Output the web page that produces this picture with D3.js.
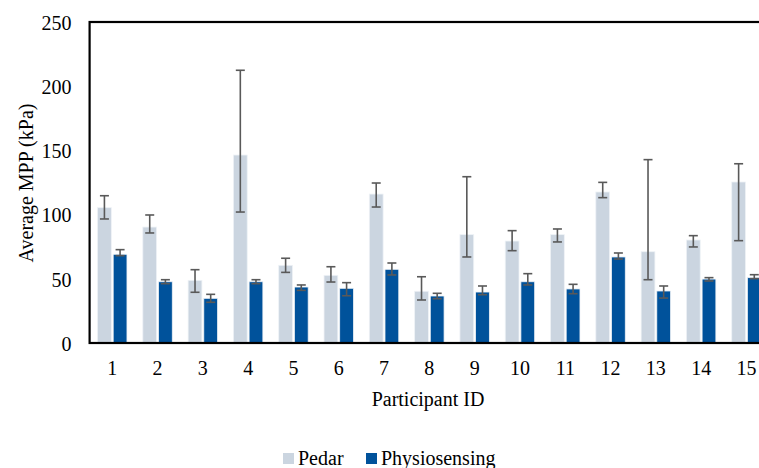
<!DOCTYPE html>
<meta charset="utf-8">
<style>
body { margin: 0; background: #fff; }
svg text { font-family: "Liberation Serif", "DejaVu Serif", serif !important; fill: #000; }
.axis path, .axis line { display: none; }
.axis text { font-size: 20px; }
.err line { stroke: #595959; stroke-width: 1.6; }
</style>
<script src="https://cdn.jsdelivr.net/npm/d3@7"></script>
<body>
<script>

// participant ids
var participants = ["1","2","3","4","5","6","7","8","9","10","11","12","13","14","15"];
var series = ["Pedar", "Physiosensing"];
var colors = ["#cbd5e0", "#00529b"];

// mean values (kPa)
var pedar  = [105.4, 90.3, 48.8, 146.4, 60.5, 52.7, 116.0, 40.3, 84.4, 79.4, 84.4, 117.6, 71.1, 80.2, 125.4];
var physio = [69.1, 47.7, 34.8, 47.7, 43.6, 42.6, 57.4, 36.6, 39.7, 47.7, 42.1, 67.0, 40.5, 49.8, 50.9];

// error bar ends
var pedarHigh  = [114.7, 99.7, 57.1, 212.4, 66.0, 59.4, 124.6, 51.6, 129.5, 87.5, 88.8, 125.1, 142.8, 83.6, 139.6];
var pedarLow   = [96.6, 85.7, 39.5, 102.0, 55.0, 47.5, 105.9, 33.5, 67.0, 71.9, 78.7, 113.2, 49.3, 74.8, 79.7];
var physioHigh = [72.7, 49.3, 37.9, 49.3, 45.2, 47.0, 62.3, 38.7, 44.4, 54.0, 45.7, 70.1, 44.4, 50.9, 53.2];
var physioLow  = [68.0, 46.2, 31.7, 46.2, 41.0, 36.8, 53.0, 34.5, 37.6, 45.2, 38.4, 65.4, 35.0, 48.3, 50.1];

var yTicks = [0, 50, 100, 150, 200, 250];

var margin = {top: 22, left: 89.6},
    width = 679.5,   // plot runs past the right edge of the picture
    height = 321;

var svg = d3.select("body").append("svg")
    .attr("width", 759)
    .attr("height", 468)
    .style("font-family", "'Liberation Serif', 'DejaVu Serif', serif");

var g = svg.append("g")
    .attr("transform", "translate(" + margin.left + "," + margin.top + ")");

var x0 = d3.scaleBand().domain(participants).range([0, width]).paddingInner(0.35).paddingOuter(0.175);
var x1 = d3.scaleBand().domain(series).range([0, x0.bandwidth()]).paddingInner(0.12);
var y = d3.scaleLinear().domain([0, 250]).range([height, 0]);

var rows = participants.map(function(p, i) {
  return {
    id: p,
    vals: [
      {key: series[0], v: pedar[i], hi: pedarHigh[i], lo: pedarLow[i], c: colors[0]},
      {key: series[1], v: physio[i], hi: physioHigh[i], lo: physioLow[i], c: colors[1]}
    ]
  };
});

var group = g.selectAll(".grp")
    .data(rows)
    .enter().append("g")
    .attr("class", "grp")
    .attr("transform", function(d) { return "translate(" + x0(d.id) + ",0)"; });

group.selectAll("rect")
    .data(function(d) { return d.vals; })
    .enter().append("rect")
    .attr("x", function(d) { return x1(d.key); })
    .attr("y", function(d) { return y(d.v); })
    .attr("width", x1.bandwidth())
    .attr("height", function(d) { return height - y(d.v); })
    .style("fill", function(d) { return d.c; })
    .style("stroke", "#eef2f6")
    .style("stroke-width", 0.8);

var err = group.selectAll(".err")
    .data(function(d) { return d.vals; })
    .enter().append("g")
    .attr("class", "err")
    .attr("transform", function(d) { return "translate(" + (x1(d.key) + x1.bandwidth() / 2) + ",0)"; });

err.append("line")
    .attr("x1", 0).attr("x2", 0)
    .attr("y1", function(d) { return y(d.hi); })
    .attr("y2", function(d) { return y(d.lo); });
err.append("line")
    .attr("x1", -4.5).attr("x2", 4.5)
    .attr("y1", function(d) { return y(d.hi); })
    .attr("y2", function(d) { return y(d.hi); });
err.append("line")
    .attr("x1", -4.5).attr("x2", 4.5)
    .attr("y1", function(d) { return y(d.lo); })
    .attr("y2", function(d) { return y(d.lo); });

// plot area frame
g.append("rect")
    .attr("x", 0).attr("y", 0)
    .attr("width", width).attr("height", height)
    .style("fill", "none")
    .style("stroke", "#000")
    .style("stroke-width", 2.2);

var yAxis = g.append("g")
    .attr("class", "axis")
    .call(d3.axisLeft(y).tickValues(yTicks).tickSize(0).tickPadding(18));
yAxis.attr("font-family", null);
yAxis.selectAll("text").attr("dy", "0.36em");

var xAxis = g.append("g")
    .attr("class", "axis")
    .attr("transform", "translate(0," + height + ")")
    .call(d3.axisBottom(x0).tickSize(0).tickPadding(18));
xAxis.attr("font-family", null);

svg.append("text")
    .attr("x", 428)
    .attr("y", 406)
    .attr("text-anchor", "middle")
    .style("font-size", "20px")
    .text("Participant ID");

svg.append("text")
    .attr("transform", "translate(33,183) rotate(-90)")
    .attr("text-anchor", "middle")
    .style("font-size", "20px")
    .text("Average MPP (kPa)");

// legend
var legX = [283, 366];
var leg = svg.selectAll(".leg")
    .data(series)
    .enter().append("g")
    .attr("class", "leg")
    .attr("transform", function(d, i) { return "translate(" + legX[i] + ",453)"; });

leg.append("rect")
    .attr("width", 11).attr("height", 11)
    .style("fill", function(d, i) { return colors[i]; });

leg.append("text")
    .attr("x", 15)
    .attr("y", 12)
    .style("font-size", "20px")
    .text(function(d) { return d; });

</script>
</body>
